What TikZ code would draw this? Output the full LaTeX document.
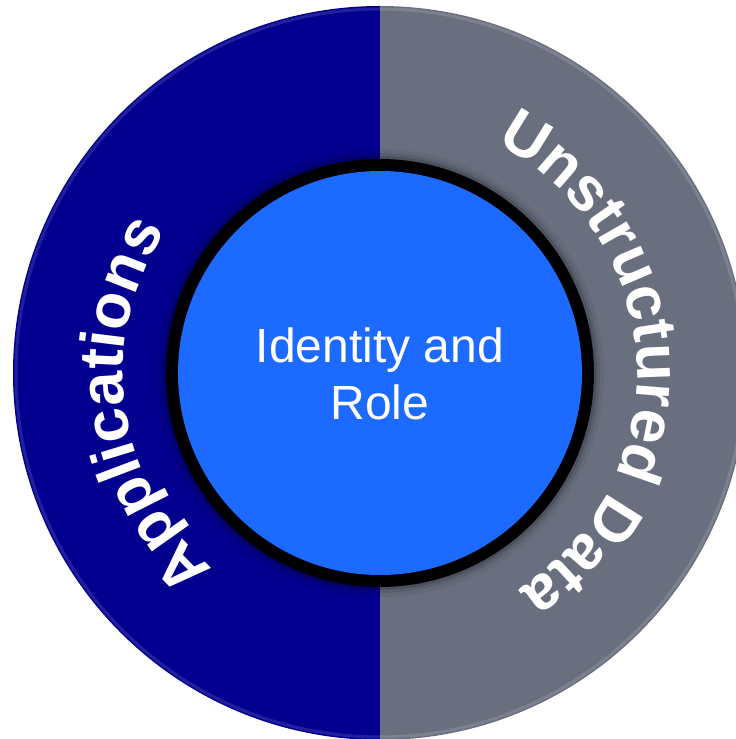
\documentclass[tikz,border=0pt]{standalone}
\usepackage{fontspec}
\setmainfont{Liberation Sans}
\usetikzlibrary{decorations.text}
\definecolor{appnavy}{RGB}{4,0,143}
\definecolor{datagray}{RGB}{106,111,128}
\definecolor{coreblue}{RGB}{28,106,255}
\newcommand{\ringfont}{\bfseries\fontsize{62}{62}\selectfont}
\tikzset{
  core/.style={align=center, text=white, font=\fontsize{48}{57}\selectfont},
  ringtext/.style={decorate, decoration={text along path, text align=center, text color=white, text={|\ringfont|#1}}}
}
\begin{document}
\begin{tikzpicture}[x=1pt, y=1pt]
\useasboundingbox (0,0) rectangle (736,739);
\clip (0,0) rectangle (736,739);
\coordinate (c) at (380,366);
% outer halves
\fill[appnavy] (c) -- ++(90:367) arc (90:270:367) -- cycle;
\fill[datagray] (c) -- ++(-90:367) arc (-90:90:367) -- cycle;
% light rim on the edge
\draw[white, opacity=0.12, line width=3] (c) circle (364);
% soft halo round the ring
\foreach \r/\o in {224/0.05, 220/0.09, 217/0.14}
  \fill[black, opacity=\o] (c) circle (\r);
% inner disc with black ring
\fill[black] (c) circle (214);
\fill[coreblue] (c) circle (202);
\node[core] (role) at (380,365) {Identity and\\Role};
% curved labels
\path[ringtext=Applications] (c) ++(248:257) arc (248:128:257);
\path[ringtext=Unstructured Data] (c) ++(78:257) arc (78:-72:257);
\end{tikzpicture}
\end{document}
